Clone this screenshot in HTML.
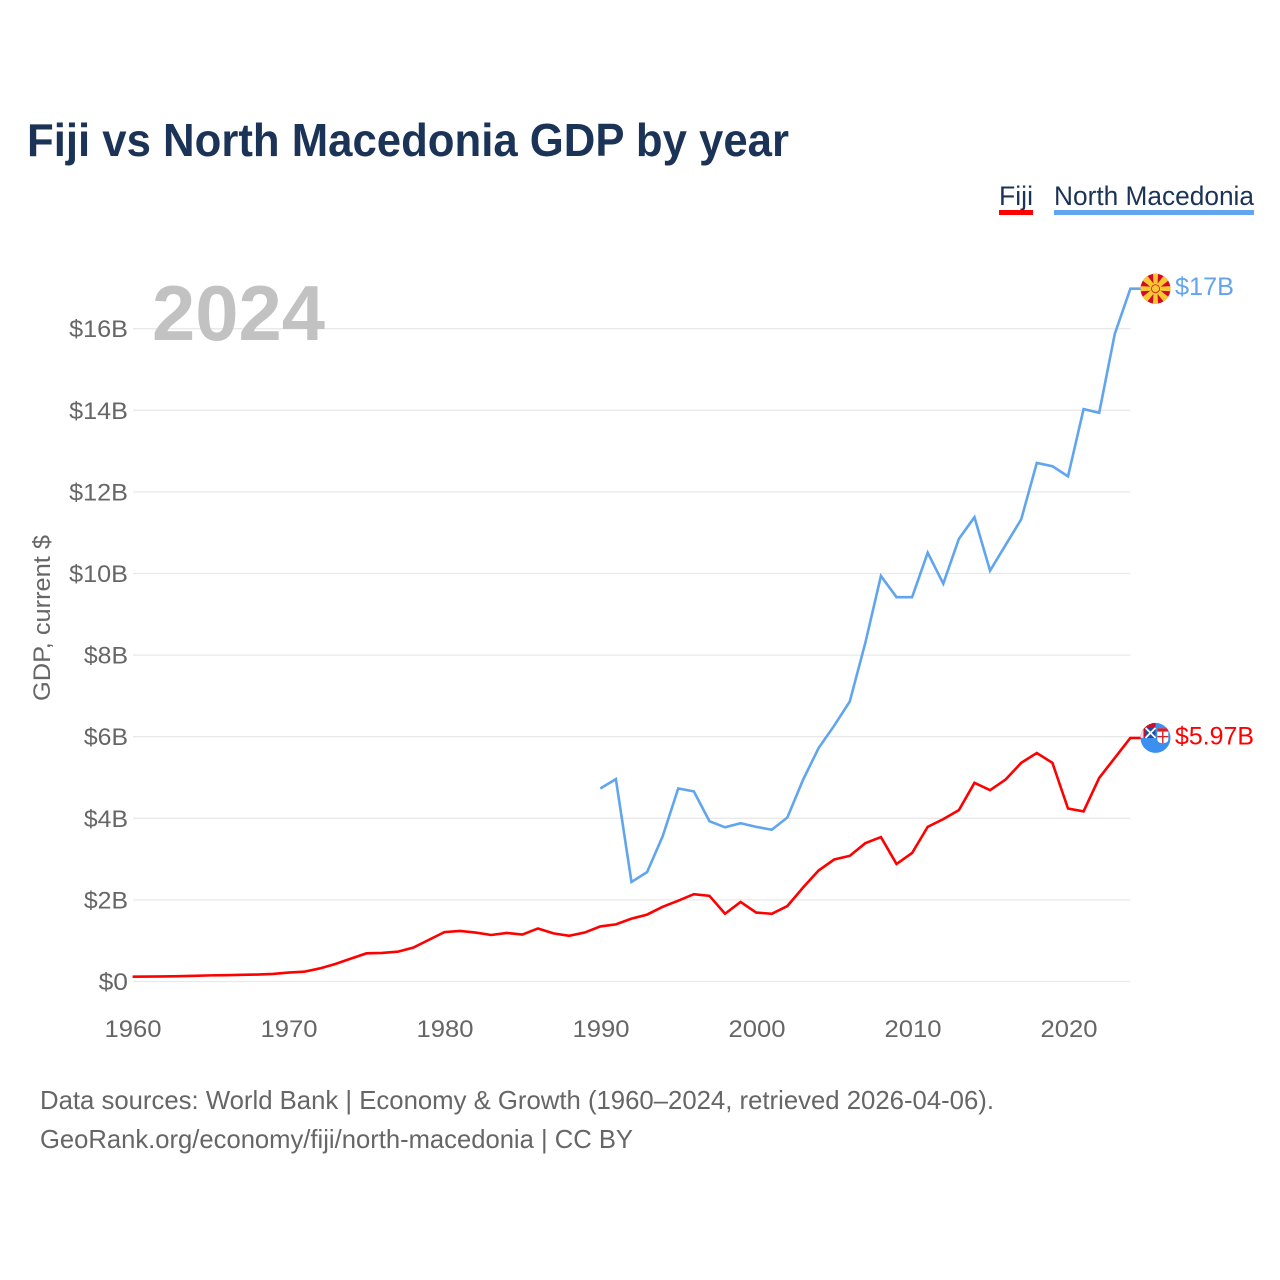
<!DOCTYPE html>
<html lang="en">
<head>
<meta charset="utf-8">
<title>Fiji vs North Macedonia GDP by year</title>
<style>
  html, body { margin: 0; padding: 0; background: #fff; }
  svg { display: block; font-family: "Liberation Sans", sans-serif; }
</style>
</head>
<body>
<svg id="chart" xmlns="http://www.w3.org/2000/svg" width="1280" height="1280" viewBox="0 0 1280 1280">
  <defs>
    <clipPath id="flag-clip"><circle cx="0" cy="0" r="15"></circle></clipPath>
  </defs>
  <rect width="1280" height="1280" fill="#fff"></rect>

  <text x="27" y="156" font-size="46" font-weight="700" fill="#1a3357" textLength="762" lengthAdjust="spacingAndGlyphs">Fiji vs North Macedonia GDP by year</text>

  <g>
    <g>
      <text x="999" y="205" font-size="27" fill="#1a3357" textLength="34" lengthAdjust="spacingAndGlyphs">Fiji</text>
      <rect x="999" y="210" width="34" height="5" fill="#ff0000"></rect>
    </g>
    <g>
      <text x="1054" y="205" font-size="27" fill="#1a3357" textLength="200" lengthAdjust="spacingAndGlyphs">North Macedonia</text>
      <rect x="1054" y="210" width="200" height="5" fill="#60a5ed"></rect>
    </g>
  </g>

  <g id="grid"></g>
  <g id="y-ticks"></g>
  <g id="x-ticks"></g>

  <text x="152" y="340" font-size="78" font-weight="700" fill="#c2c2c2" textLength="173" lengthAdjust="spacingAndGlyphs">2024</text>

  <text transform="translate(50,618) rotate(-90)" text-anchor="middle" font-size="24" fill="#666666" textLength="166" lengthAdjust="spacingAndGlyphs">GDP, current $</text>

  <g id="series"></g>

  <g id="flag-mk">
    <g clip-path="url(#flag-clip)">
      <rect x="-16" y="-16" width="32" height="32" fill="#d20a25"></rect>
      <g fill="#f8c832">
        <polygon points="-1.8,0 1.8,0 2.6,-16 -2.6,-16"></polygon>
        <polygon points="-1.8,0 1.8,0 2.6,-16 -2.6,-16" transform="rotate(90)"></polygon>
        <polygon points="-1.8,0 1.8,0 2.6,-16 -2.6,-16" transform="rotate(180)"></polygon>
        <polygon points="-1.8,0 1.8,0 2.6,-16 -2.6,-16" transform="rotate(270)"></polygon>
        <polygon points="-1.6,0 1.6,0 3.6,-17 -3.6,-17" transform="rotate(45)"></polygon>
        <polygon points="-1.6,0 1.6,0 3.6,-17 -3.6,-17" transform="rotate(135)"></polygon>
        <polygon points="-1.6,0 1.6,0 3.6,-17 -3.6,-17" transform="rotate(225)"></polygon>
        <polygon points="-1.6,0 1.6,0 3.6,-17 -3.6,-17" transform="rotate(315)"></polygon>
      </g>
      <circle r="4.4" fill="#d20a25"></circle>
      <circle r="3.6" fill="#f8c832"></circle>
    </g>
  </g>

  <g id="flag-fj">
    <g clip-path="url(#flag-clip)">
      <rect x="-16" y="-16" width="32" height="32" fill="#3b8fee"></rect>
      <rect x="-16" y="-16" width="16" height="16" fill="#c8102e"></rect>
      <rect x="-15" y="-10" width="3" height="10" fill="#f4d9dc"></rect>
      <rect x="-10" y="-10" width="10" height="10" fill="#1f4f9c"></rect>
      <path d="M-10,-10 L0,0 M0,-10 L-10,0" stroke="#fff" stroke-width="1.8"></path>
      <path d="M1.8,-9.7 H12.8 V1.5 Q12.8,5.3 7.3,5.3 Q1.8,5.3 1.8,1.5 Z" fill="#fff"></path>
      <rect x="1.8" y="-9.7" width="11" height="3.4" fill="#d2232a"></rect>
      <rect x="6.6" y="-6.3" width="1.4" height="11.6" fill="#d2232a"></rect>
      <rect x="1.8" y="-2" width="11" height="1.4" fill="#d2232a"></rect>
    </g>
  </g>

  <text id="label-mk" font-size="25" fill="#60a5ed" textLength="59" lengthAdjust="spacingAndGlyphs">$17B</text>
  <text id="label-fj" font-size="25" fill="#ff0000" textLength="79" lengthAdjust="spacingAndGlyphs">$5.97B</text>

  <g>
    <text x="40" y="1109" font-size="26" fill="#666666" textLength="954" lengthAdjust="spacingAndGlyphs">Data sources: World Bank | Economy &amp; Growth (1960–2024, retrieved 2026-04-06).</text>
    <text x="40" y="1148" font-size="26" fill="#666666" textLength="593" lengthAdjust="spacingAndGlyphs">GeoRank.org/economy/fiji/north-macedonia | CC BY</text>
  </g>
</svg>

<script>
const fijiStartYear = 1960;
const macedoniaStartYear = 1990;
const xTickYears = [1960, 1970, 1980, 1990, 2000, 2010, 2020];
const xTickLabels = ["1960", "1970", "1980", "1990", "2000", "2010", "2020"];
const yTickValues = [0, 2, 4, 6, 8, 10, 12, 14, 16];
const yTickLabels = ["$0", "$2B", "$4B", "$6B", "$8B", "$10B", "$12B", "$14B", "$16B"];
const fijiGdp = [0.117, 0.12, 0.125, 0.13, 0.14, 0.15, 0.155, 0.165, 0.17, 0.185,
  0.22, 0.24, 0.32, 0.43, 0.56, 0.69, 0.70, 0.73, 0.83, 1.02,
  1.21, 1.24, 1.20, 1.14, 1.19, 1.15, 1.30, 1.18, 1.12, 1.20,
  1.35, 1.40, 1.54, 1.64, 1.83, 1.98, 2.14, 2.10, 1.66, 1.95,
  1.69, 1.66, 1.85, 2.30, 2.72, 2.99, 3.08, 3.39, 3.54, 2.88,
  3.15, 3.79, 3.98, 4.20, 4.87, 4.69, 4.95, 5.36, 5.60, 5.36,
  4.24, 4.17, 4.99, 5.48, 5.97];
const macedoniaGdp = [4.73, 4.96, 2.44, 2.68, 3.56, 4.73, 4.66, 3.93, 3.78, 3.88,
  3.79, 3.72, 4.02, 4.94, 5.72, 6.27, 6.86, 8.30, 9.94, 9.42,
  9.42, 10.51, 9.75, 10.85, 11.38, 10.07, 10.70, 11.33, 12.71, 12.63,
  12.38, 14.03, 13.94, 15.87, 16.98];

const svgNS = "http://www.w3.org/2000/svg";
function xScale(year) { return 132.6 + (year - 1960) * 15.59; }
function xLabelScale(year) { return 133 + (year - 1960) * 15.6; }
function yScale(value) { return 981.5 - value * 40.8; }

const gridGroup = document.getElementById("grid");
const yTickGroup = document.getElementById("y-ticks");
const xTickGroup = document.getElementById("x-ticks");
const seriesGroup = document.getElementById("series");

yTickValues.forEach(function (value, i) {
  const line = document.createElementNS(svgNS, "line");
  line.setAttribute("x1", 133);
  line.setAttribute("x2", xScale(2024));
  line.setAttribute("y1", yScale(value));
  line.setAttribute("y2", yScale(value));
  line.setAttribute("stroke", "#e9e9e9");
  line.setAttribute("stroke-width", 1.3);
  
  
  gridGroup.appendChild(line);

  const label = document.createElementNS(svgNS, "text");
  label.setAttribute("x", 128 - yTickLabels[i].length * 14.7);
  label.setAttribute("y", yScale(value) + 8.5);
  label.setAttribute("font-size", 24);
  label.setAttribute("fill", "#666666");
  label.setAttribute("textLength", yTickLabels[i].length * 14.7);
  label.setAttribute("lengthAdjust", "spacingAndGlyphs");
  
  
  label.textContent = yTickLabels[i];
  yTickGroup.appendChild(label);
});

xTickYears.forEach(function (year, i) {
  const label = document.createElementNS(svgNS, "text");
  label.setAttribute("x", xLabelScale(year) - 28.5);
  label.setAttribute("y", 1037);
  label.setAttribute("font-size", 24);
  label.setAttribute("fill", "#666666");
  label.setAttribute("textLength", 57);
  label.setAttribute("lengthAdjust", "spacingAndGlyphs");
  
  
  label.textContent = xTickLabels[i];
  xTickGroup.appendChild(label);
});

function seriesPoints(values, startYear) {
  const pts = values.map(function (v, i) {
    return xScale(startYear + i).toFixed(2) + "," + yScale(v).toFixed(2);
  });
  const last = values[values.length - 1];
  const lastYear = startYear + values.length - 1;
  pts.push((xScale(lastYear) + 11).toFixed(2) + "," + yScale(last).toFixed(2));
  return pts.join(" ");
}

const macedoniaLine = document.createElementNS(svgNS, "polyline");
macedoniaLine.setAttribute("points", seriesPoints(macedoniaGdp, macedoniaStartYear));
macedoniaLine.setAttribute("fill", "none");
macedoniaLine.setAttribute("stroke", "#60a5ed");
macedoniaLine.setAttribute("stroke-width", 2.6);


seriesGroup.appendChild(macedoniaLine);

const fijiLine = document.createElementNS(svgNS, "polyline");
fijiLine.setAttribute("points", seriesPoints(fijiGdp, fijiStartYear));
fijiLine.setAttribute("fill", "none");
fijiLine.setAttribute("stroke", "#ff0000");
fijiLine.setAttribute("stroke-width", 2.6);


seriesGroup.appendChild(fijiLine);

function placeEnd(flagId, labelId, values) {
  const y = yScale(values[values.length - 1]);
  const x = xScale(2024);
  document.getElementById(flagId).setAttribute("transform", "translate(1155.5," + y + ")");
  const label = document.getElementById(labelId);
  label.setAttribute("x", 1175);
  label.setAttribute("y", y + 6.5);
}
placeEnd("flag-mk", "label-mk", macedoniaGdp);
placeEnd("flag-fj", "label-fj", fijiGdp);
</script>
</body>
</html>
